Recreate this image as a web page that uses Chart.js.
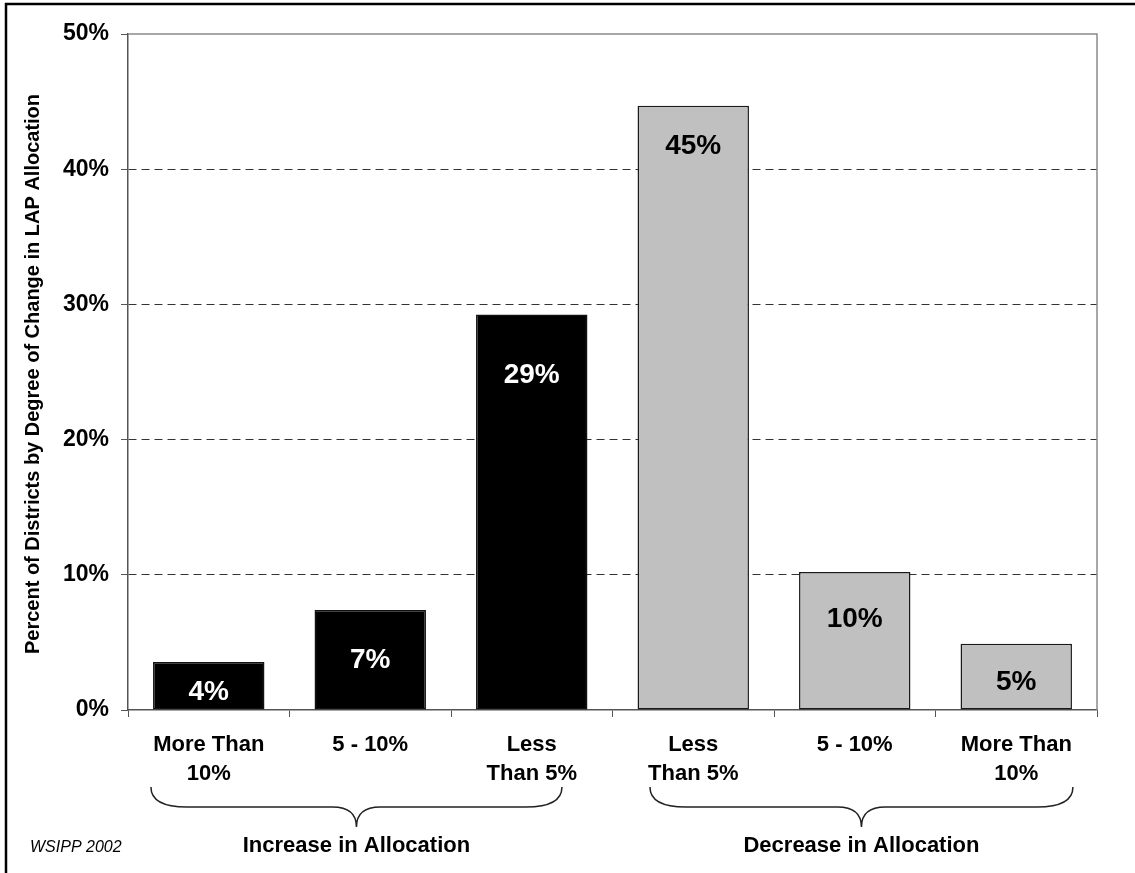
<!DOCTYPE html>
<html lang="en">
  <head>
    <meta charset="UTF-8" />
    <title>LAP allocation change</title>
    <script src="https://cdn.jsdelivr.net/npm/chart.js"></script>
    <style>
      body { margin: 0; background: #fff; }
      .chart-box { width: 1135px; height: 873px; position: relative; }
    </style>
  </head>
  <body>
    <div class="chart-box">
      <canvas id="lapChart"></canvas>
    </div>
    <script>
      // data
      const categories = [
        ["More Than", "10%"],
        ["5 - 10%"],
        ["Less", "Than 5%"],
        ["Less", "Than 5%"],
        ["5 - 10%"],
        ["More Than", "10%"],
      ];
      const percentDistricts = [3.55, 7.4, 29.25, 44.7, 10.2, 4.9];
      const groupNames = ["Increase in Allocation", "Decrease in Allocation"];
      const yTicks = [0, 10, 20, 30, 40, 50];
      const yTitle = "Percent of Districts by Degree of Change in LAP Allocation";
      const sourceNote = "WSIPP 2002";

      // styles
      const FONT = '"Liberation Sans", Arial, Helvetica, sans-serif';
      const barFill = ["#000", "#000", "#000", "#c0c0c0", "#c0c0c0", "#c0c0c0"];
      const barEdge = ["#111", "#111", "#111", "#1a1a1a", "#1a1a1a", "#1a1a1a"];
      const valueColor = ["#fff", "#fff", "#fff", "#000", "#000", "#000"];
      const valueDrop = [30, 50, 61, 41, 47, 39]; // px below bar top
      // brace span per group, in category units
      const braceSpan = [[-0.358, 2.187], [2.732, 5.351]];

      const ctx = document.getElementById("lapChart").getContext("2d");

      // frame, value labels, braces, titles
      const extras = {
        id: "extras",
        beforeDatasetsDraw(chart) {
          const { ctx, chartArea: a } = chart;
          ctx.save();
          ctx.strokeStyle = "#8a8a8a";
          ctx.lineWidth = 1.5;
          ctx.beginPath();
          ctx.moveTo(a.left, a.top);
          ctx.lineTo(a.right, a.top);
          ctx.lineTo(a.right, a.bottom);
          ctx.stroke();
          ctx.restore();
        },
        afterDatasetsDraw(chart) {
          const { ctx } = chart;
          const meta = chart.getDatasetMeta(0);
          ctx.save();
          ctx.font = "bold 28px " + FONT;
          ctx.textAlign = "center";
          ctx.textBaseline = "middle";
          meta.data.forEach((bar, i) => {
            ctx.fillStyle = valueColor[i];
            ctx.fillText(Math.round(percentDistricts[i]) + "%", bar.x, bar.y + valueDrop[i]);
          });
          ctx.restore();
        },
        afterDraw(chart) {
          const { ctx, scales } = chart;
          const x = scales.x;
          ctx.save();

          // outer frame
          ctx.strokeStyle = "#000";
          ctx.lineWidth = 2.5;
          ctx.beginPath();
          ctx.moveTo(6, chart.height + 5);
          ctx.lineTo(6, 4);
          ctx.lineTo(chart.width + 5, 4);
          ctx.stroke();

          // curly braces + group names
          const top = 787, mid = 807, tip = 827;
          ctx.strokeStyle = "#222";
          ctx.lineWidth = 1.5;
          groupNames.forEach((name, g) => {
            const L = x.getPixelForValue(braceSpan[g][0]);
            const R = x.getPixelForValue(braceSpan[g][1]);
            const C = (L + R) / 2;
            ctx.beginPath();
            ctx.moveTo(L, top);
            ctx.quadraticCurveTo(L, mid, L + 36, mid);
            ctx.lineTo(C - 24, mid);
            ctx.quadraticCurveTo(C, mid, C, tip);
            ctx.quadraticCurveTo(C, mid, C + 24, mid);
            ctx.lineTo(R - 36, mid);
            ctx.quadraticCurveTo(R, mid, R, top);
            ctx.stroke();

            ctx.fillStyle = "#000";
            ctx.font = "bold 22px " + FONT;
            ctx.textAlign = "center";
            ctx.textBaseline = "middle";
            ctx.fillText(name, C, 846);
          });

          // y axis title
          ctx.save();
          ctx.translate(33, 374);
          ctx.rotate(-Math.PI / 2);
          ctx.font = "bold 20px " + FONT;
          ctx.fillStyle = "#000";
          ctx.textAlign = "center";
          ctx.textBaseline = "middle";
          ctx.fillText(yTitle, 0, 0);
          ctx.restore();

          // source note
          ctx.font = "italic 16px " + FONT;
          ctx.fillStyle = "#000";
          ctx.textAlign = "left";
          ctx.textBaseline = "middle";
          ctx.fillText(sourceNote, 30, 848);

          ctx.restore();
        },
      };

      new Chart(ctx, {
        type: "bar",
        data: {
          labels: categories,
          datasets: [
            {
              data: percentDistricts,
              backgroundColor: barFill,
              borderColor: barEdge,
              borderWidth: 1.5,
              borderSkipped: false,
              barPercentage: 0.69,
              categoryPercentage: 1,
            },
          ],
        },
        options: {
          responsive: true,
          maintainAspectRatio: false,
          animation: false,
          layout: { padding: { top: 34, right: 38, left: 0, bottom: 0 } },
          plugins: {
            legend: { display: false },
            tooltip: { enabled: false },
          },
          scales: {
            x: {
              afterFit(scale) {
                scale.height = 163;
              },
              grid: {
                offset: true,
                drawOnChartArea: false,
                drawTicks: true,
                tickLength: 7,
                color: "#555",
              },
              border: { display: true, color: "#555", width: 1.5 },
              ticks: {
                color: "#000",
                padding: 14,
                maxRotation: 0,
                autoSkip: false,
                font: { family: FONT, size: 22, weight: "bold", lineHeight: 1.3 },
              },
            },
            y: {
              min: yTicks[0],
              max: yTicks[yTicks.length - 1],
              afterFit(scale) {
                scale.width = 128;
              },
              afterBuildTicks(scale) {
                scale.ticks = yTicks.map((v) => ({ value: v }));
              },
              grid: {
                color: (c) =>
                  c.tick && (c.tick.value === yTicks[0] || c.tick.value === yTicks[yTicks.length - 1])
                    ? "rgba(0,0,0,0)"
                    : "#333",
                lineWidth: 1,
                tickLength: 7,
                tickColor: "#555",
              },
              border: { display: true, color: "#555", width: 1.5, dash: [8, 5] },
              ticks: {
                color: "#000",
                padding: 12,
                callback: (v) => v + "%",
                font: { family: FONT, size: 23, weight: "bold" },
              },
            },
          },
        },
        plugins: [extras],
      });
    </script>
  </body>
</html>
